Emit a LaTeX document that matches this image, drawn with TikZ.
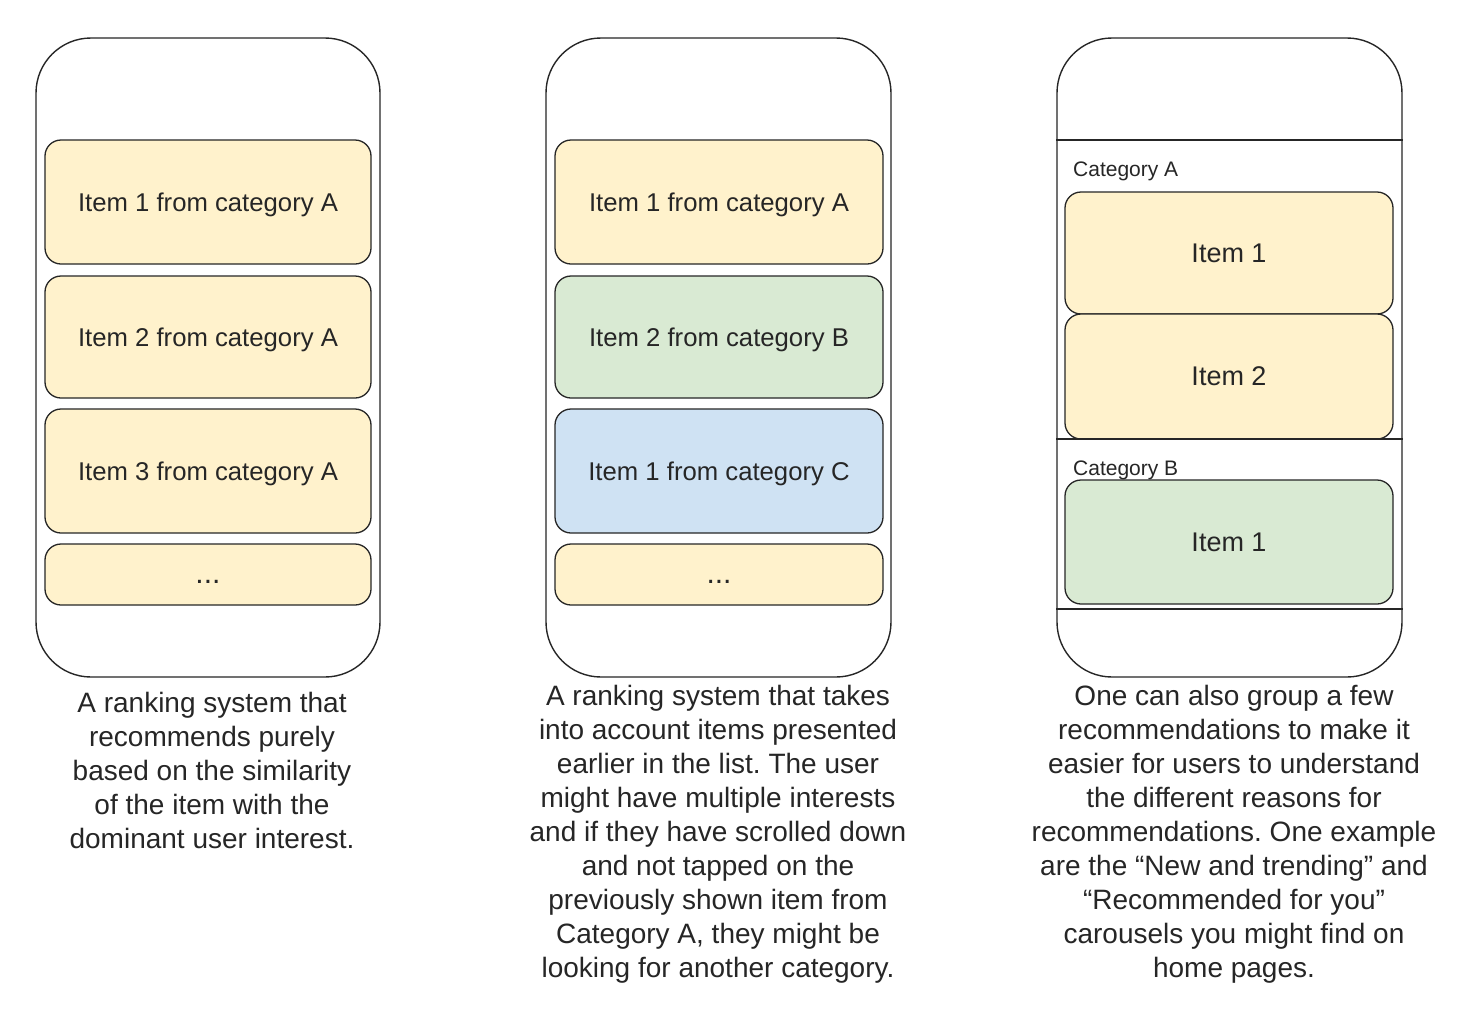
\documentclass[tikz,border=0pt]{standalone}
\usepackage{fontspec}
\setmainfont{Liberation Sans}
\frenchspacing
\definecolor{cyel}{HTML}{FFF2CC}
\definecolor{cgrn}{HTML}{D9EAD3}
\definecolor{cblu}{HTML}{CFE2F3}
\definecolor{ink}{HTML}{262626}
\begin{document}
\begin{tikzpicture}[x=1pt,y=-1pt,
  phone/.style={draw=ink, line width=1.4pt, rounded corners=55pt, fill=white, inner sep=0pt},
  item/.style={draw=ink, line width=1.3pt, rounded corners=16pt, inner sep=0pt, text=ink,
     text depth=0pt, font=\fontsize{25.7}{30}\selectfont},
  dots/.style={item, text height=17pt, text depth=0pt, font=\fontsize{30}{34}\selectfont},
  bigitem/.style={draw=ink, line width=1.3pt, rounded corners=16pt, inner sep=0pt, text=ink,
     font=\fontsize{27}{32}\selectfont},
  cat/.style={anchor=west, inner sep=0pt, text=ink, text depth=0pt, font=\fontsize{21}{25}\selectfont},
  caption/.style={align=center, inner sep=0pt, text=ink, font=\fontsize{28}{34}\selectfont},
  sep/.style={draw=ink, line width=1.4pt}]
\useasboundingbox[fill=white] (0,0) rectangle (1484,1026);

% Phone 1
\node[phone, minimum width=344pt, minimum height=639pt] (p1) at (208,357.5) {};
\node[item, fill=cyel, minimum width=326pt, minimum height=124pt] (p1i1) at (208,202) {Item 1 from category A};
\node[item, fill=cyel, minimum width=326pt, minimum height=122pt] (p1i2) at (208,337) {Item 2 from category A};
\node[item, fill=cyel, minimum width=326pt, minimum height=124pt] (p1i3) at (208,471) {Item 3 from category A};
\node[dots, fill=cyel, minimum width=326pt, minimum height=61pt] (p1i4) at (208,574.5) {...};
\node[caption] (c1) at (212,770) {A ranking system that\\recommends purely\\based on the similarity\\of the item with the\\dominant user interest.};

% Phone 2
\node[phone, minimum width=345pt, minimum height=639pt] (p2) at (718.5,357.5) {};
\node[item, fill=cyel, minimum width=328pt, minimum height=124pt] (p2i1) at (719,202) {Item 1 from category A};
\node[item, fill=cgrn, minimum width=328pt, minimum height=122pt] (p2i2) at (719,337) {Item 2 from category B};
\node[item, fill=cblu, minimum width=328pt, minimum height=124pt] (p2i3) at (719,471) {Item 1 from category C};
\node[dots, fill=cyel, minimum width=328pt, minimum height=61pt] (p2i4) at (719,574.5) {...};
\node[caption] (c2) at (718,834) {A ranking system that takes\\into account items presented\\earlier in the list. The user\\might have multiple interests\\and if they have scrolled down\\and not tapped on the\\previously shown item from\\Category A, they might be\\looking for another category.};

% Phone 3
\node[phone, minimum width=345pt, minimum height=639pt] (p3) at (1229.5,357.5) {};
\coordinate (l1) at (0,140);
\coordinate (l2) at (0,439);
\coordinate (l3) at (0,609);
\node[bigitem, fill=cyel, minimum width=328pt, minimum height=122pt] (p3i1) at (1229,253) {Item 1};
\node[bigitem, fill=cyel, minimum width=328pt, minimum height=125pt] (p3i2) at (1229,376.5) {Item 2};
\node[bigitem, fill=cgrn, minimum width=328pt, minimum height=124pt] (p3i3) at (1229,542) {Item 1};
\draw[sep] (p3.west |- l1) -- (p3.east |- l1);
\draw[sep] (p3.west |- l2) -- (p3.east |- l2);
\draw[sep] (p3.west |- l3) -- (p3.east |- l3);
\node[cat] (catA) at (1073,169) {Category A};
\node[cat] (catB) at (1073,468) {Category B};
\node[caption] (c3) at (1234,834) {One can also group a few\\recommendations to make it\\easier for users to understand\\the different reasons for\\recommendations. One example\\are the “New and trending” and\\“Recommended for you”\\carousels you might find on\\home pages.};
\end{tikzpicture}
\end{document}
